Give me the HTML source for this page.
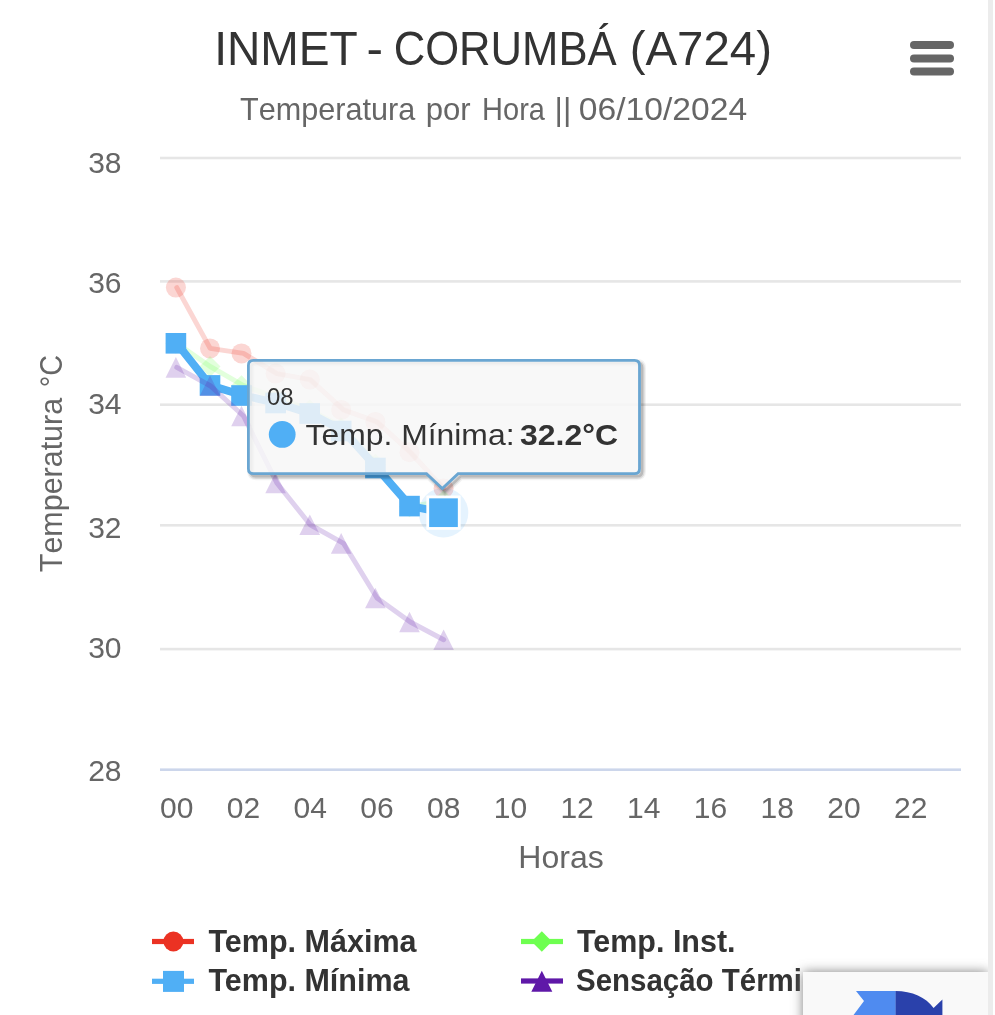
<!DOCTYPE html>
<html><head><meta charset="utf-8"><title>INMET - CORUMBÁ (A724)</title>
<style>
html,body{margin:0;padding:0;background:#fff;width:995px;height:1015px;overflow:hidden;}
svg{position:absolute;left:0;top:0;display:block;will-change:transform;}
text{font-family:"Liberation Sans",sans-serif;}
</style></head><body>
<svg width="995" height="1015" viewBox="0 0 995 1015">
<defs><filter id="bsh" x="-30%" y="-100%" width="160%" height="300%"><feGaussianBlur stdDeviation="6"/></filter></defs>

<rect x="988" y="0" width="5" height="1015" fill="#ececec"/>
<text x="214.14" y="65" font-size="49" fill="#333333" textLength="143.62" lengthAdjust="spacingAndGlyphs" style="font-kerning:none">INMET</text>
<text x="366.60" y="65" font-size="49" fill="#333333" textLength="16.50" lengthAdjust="spacingAndGlyphs" style="font-kerning:none">-</text>
<text x="393.68" y="65" font-size="49" fill="#333333" textLength="223.00" lengthAdjust="spacingAndGlyphs" style="font-kerning:none">CORUMBÁ</text>
<text x="629.66" y="65" font-size="49" fill="#333333" textLength="142.38" lengthAdjust="spacingAndGlyphs" style="font-kerning:none">(A724)</text>
<text x="240.01" y="119.6" font-size="31.7" fill="#666666" textLength="175.29" lengthAdjust="spacingAndGlyphs" style="font-kerning:none">Temperatura</text>
<text x="425.80" y="119.6" font-size="31.7" fill="#666666" textLength="44.92" lengthAdjust="spacingAndGlyphs" style="font-kerning:none">por</text>
<text x="482.12" y="119.6" font-size="31.7" fill="#666666" textLength="62.78" lengthAdjust="spacingAndGlyphs" style="font-kerning:none">Hora</text>
<text x="554.52" y="119.6" font-size="31.7" fill="#666666" textLength="16.77" lengthAdjust="spacingAndGlyphs" style="font-kerning:none">||</text>
<text x="578.79" y="119.6" font-size="31.7" fill="#666666" textLength="168.30" lengthAdjust="spacingAndGlyphs" style="font-kerning:none">06/10/2024</text>
<line x1="914" y1="45.1" x2="950" y2="45.1" stroke="#666666" stroke-width="8" stroke-linecap="round"/>
<line x1="914" y1="58.4" x2="950" y2="58.4" stroke="#666666" stroke-width="8" stroke-linecap="round"/>
<line x1="914" y1="71.6" x2="950" y2="71.6" stroke="#666666" stroke-width="8" stroke-linecap="round"/>
<rect x="160" y="156.7" width="801" height="2.6" fill="#e6e6e6"/>
<rect x="160" y="280.1" width="801" height="2.6" fill="#e6e6e6"/>
<rect x="160" y="403.4" width="801" height="2.6" fill="#e6e6e6"/>
<rect x="160" y="524.0" width="801" height="2.6" fill="#e6e6e6"/>
<rect x="160" y="647.8" width="801" height="2.6" fill="#e6e6e6"/>
<rect x="160" y="768.4" width="801" height="2.6" fill="#ccd6eb"/>
<text x="121.5" y="172.6" font-size="30" fill="#666666" text-anchor="end">38</text>
<text x="121.5" y="292.6" font-size="30" fill="#666666" text-anchor="end">36</text>
<text x="121.5" y="413.7" font-size="30" fill="#666666" text-anchor="end">34</text>
<text x="121.5" y="537.5" font-size="30" fill="#666666" text-anchor="end">32</text>
<text x="121.5" y="657.6" font-size="30" fill="#666666" text-anchor="end">30</text>
<text x="121.5" y="781.3" font-size="30" fill="#666666" text-anchor="end">28</text>
<text x="176.8" y="817.6" font-size="30" fill="#666666" text-anchor="middle">00</text>
<text x="243.5" y="817.6" font-size="30" fill="#666666" text-anchor="middle">02</text>
<text x="310.2" y="817.6" font-size="30" fill="#666666" text-anchor="middle">04</text>
<text x="376.9" y="817.6" font-size="30" fill="#666666" text-anchor="middle">06</text>
<text x="443.7" y="817.6" font-size="30" fill="#666666" text-anchor="middle">08</text>
<text x="510.4" y="817.6" font-size="30" fill="#666666" text-anchor="middle">10</text>
<text x="577.1" y="817.6" font-size="30" fill="#666666" text-anchor="middle">12</text>
<text x="643.8" y="817.6" font-size="30" fill="#666666" text-anchor="middle">14</text>
<text x="710.5" y="817.6" font-size="30" fill="#666666" text-anchor="middle">16</text>
<text x="777.3" y="817.6" font-size="30" fill="#666666" text-anchor="middle">18</text>
<text x="844.0" y="817.6" font-size="30" fill="#666666" text-anchor="middle">20</text>
<text x="910.7" y="817.6" font-size="30" fill="#666666" text-anchor="middle">22</text>
<text x="561" y="868" font-size="32" fill="#666666" text-anchor="middle">Horas</text>
<g transform="translate(62,0) rotate(-90)"><text x="-572.18" y="0" font-size="32" fill="#666666" textLength="174.28" lengthAdjust="spacingAndGlyphs" style="font-kerning:none">Temperatura</text><text x="-387.32" y="0" font-size="32" fill="#666666" textLength="32.42" lengthAdjust="spacingAndGlyphs" style="font-kerning:none">°C</text></g>
<g opacity="0.2"><polyline points="176.8,287.6 210.2,348.4 243.5,353.4 276.9,373.6 310.2,379.6 343.6,409.9 377.0,421.9 410.3,452.2 443.7,488.5" fill="none" stroke="#eb3223" stroke-width="5.0" stroke-linejoin="round" stroke-linecap="round"/></g><g opacity="0.2"><circle cx="175.9" cy="287.6" r="10.0" fill="#eb3223"/><circle cx="210.0" cy="348.4" r="10.0" fill="#eb3223"/><circle cx="241.5" cy="353.4" r="10.0" fill="#eb3223"/><circle cx="275.6" cy="373.6" r="10.0" fill="#eb3223"/><circle cx="309.8" cy="379.6" r="10.0" fill="#eb3223"/><circle cx="341.2" cy="409.9" r="10.0" fill="#eb3223"/><circle cx="375.4" cy="421.9" r="10.0" fill="#eb3223"/><circle cx="409.5" cy="452.2" r="10.0" fill="#eb3223"/><circle cx="443.6" cy="488.5" r="10.0" fill="#eb3223"/></g>
<g opacity="0.2"><polyline points="176.8,343.3 210.2,366.5 243.5,385.7 276.9,397.7 310.2,409.9 343.6,428.0 377.0,464.3 410.3,506.7 443.7,500.6" fill="none" stroke="#6eff50" stroke-width="5.0" stroke-linejoin="round" stroke-linecap="round"/></g><g opacity="0.2"><path d="M175.9 332.8L186.4 343.3L175.9 353.8L165.4 343.3Z" fill="#6eff50"/><path d="M210.0 356.0L220.5 366.5L210.0 377.0L199.5 366.5Z" fill="#6eff50"/><path d="M241.5 375.2L252.0 385.7L241.5 396.2L231.0 385.7Z" fill="#6eff50"/><path d="M275.6 387.2L286.1 397.7L275.6 408.2L265.1 397.7Z" fill="#6eff50"/><path d="M309.8 399.4L320.2 409.9L309.8 420.4L299.2 409.9Z" fill="#6eff50"/><path d="M341.2 417.5L351.7 428.0L341.2 438.5L330.7 428.0Z" fill="#6eff50"/><path d="M375.4 453.8L385.9 464.3L375.4 474.8L364.9 464.3Z" fill="#6eff50"/><path d="M409.5 496.2L420.0 506.7L409.5 517.2L399.0 506.7Z" fill="#6eff50"/><path d="M443.6 490.1L454.1 500.6L443.6 511.1L433.1 500.6Z" fill="#6eff50"/></g>
<polyline points="176.8,343.3 210.2,385.4 243.5,395.5 276.9,403.0 310.2,413.5 343.6,431.0 377.0,468.0 410.3,506.1 443.7,512.7" fill="none" stroke="#50aff5" stroke-width="7.9" stroke-linejoin="round" stroke-linecap="round"/>
<rect x="165.6" y="333.0" width="20.6" height="20.6" fill="#50aff5"/><rect x="199.7" y="375.1" width="20.6" height="20.6" fill="#50aff5"/><rect x="231.2" y="385.2" width="20.6" height="20.6" fill="#50aff5"/><rect x="265.3" y="392.7" width="20.6" height="20.6" fill="#50aff5"/><rect x="299.4" y="403.2" width="20.6" height="20.6" fill="#50aff5"/><rect x="330.9" y="420.7" width="20.6" height="20.6" fill="#50aff5"/><rect x="365.1" y="457.7" width="20.6" height="20.6" fill="#50aff5"/><rect x="399.2" y="495.8" width="20.6" height="20.6" fill="#50aff5"/>
<circle cx="443.5" cy="512.7" r="24.8" fill="#50aff5" fill-opacity="0.15"/>
<rect x="427.75" y="496.95000000000005" width="31.5" height="31.5" fill="#50aff5" stroke="#ffffff" stroke-width="2.8"/>
<g opacity="0.2"><polyline points="176.8,367.4 210.2,385.7 243.5,416.0 276.9,483.0 310.2,524.7 343.6,543.4 377.0,598.0 410.3,622.0 443.7,639.7" fill="none" stroke="#5f18a8" stroke-width="5.0" stroke-linejoin="round" stroke-linecap="round"/></g><g opacity="0.2"><path d="M175.9 357.1L186.2 377.7L165.6 377.7Z" fill="#5f18a8"/><path d="M210.0 375.4L220.3 396.0L199.7 396.0Z" fill="#5f18a8"/><path d="M241.5 405.7L251.8 426.3L231.2 426.3Z" fill="#5f18a8"/><path d="M275.6 472.7L285.9 493.3L265.3 493.3Z" fill="#5f18a8"/><path d="M309.8 514.4L320.1 535.0L299.4 535.0Z" fill="#5f18a8"/><path d="M341.2 533.1L351.5 553.7L330.9 553.7Z" fill="#5f18a8"/><path d="M375.4 587.7L385.7 608.3L365.1 608.3Z" fill="#5f18a8"/><path d="M409.5 611.7L419.8 632.3L399.2 632.3Z" fill="#5f18a8"/><path d="M443.6 629.4L453.9 650.0L433.3 650.0Z" fill="#5f18a8"/></g>
<path d="M253.4 360.4 L634.5 360.4 Q639.5 360.4 639.5 365.4 L639.5 468.7 Q639.5 473.7 634.5 473.7 L458.1 473.7 L442.3 488.5 L426.5 473.7 L253.4 473.7 Q248.4 473.7 248.4 468.7 L248.4 365.4 Q248.4 360.4 253.4 360.4 Z" transform="translate(2.6,2.6)" fill="none" stroke="#000" stroke-opacity="0.05" stroke-width="7.8"/>
<path d="M253.4 360.4 L634.5 360.4 Q639.5 360.4 639.5 365.4 L639.5 468.7 Q639.5 473.7 634.5 473.7 L458.1 473.7 L442.3 488.5 L426.5 473.7 L253.4 473.7 Q248.4 473.7 248.4 468.7 L248.4 365.4 Q248.4 360.4 253.4 360.4 Z" transform="translate(2.6,2.6)" fill="none" stroke="#000" stroke-opacity="0.1" stroke-width="5.2"/>
<path d="M253.4 360.4 L634.5 360.4 Q639.5 360.4 639.5 365.4 L639.5 468.7 Q639.5 473.7 634.5 473.7 L458.1 473.7 L442.3 488.5 L426.5 473.7 L253.4 473.7 Q248.4 473.7 248.4 468.7 L248.4 365.4 Q248.4 360.4 253.4 360.4 Z" transform="translate(2.6,2.6)" fill="none" stroke="#000" stroke-opacity="0.15" stroke-width="2.6"/>
<path d="M253.4 360.4 L634.5 360.4 Q639.5 360.4 639.5 365.4 L639.5 468.7 Q639.5 473.7 634.5 473.7 L458.1 473.7 L442.3 488.5 L426.5 473.7 L253.4 473.7 Q248.4 473.7 248.4 468.7 L248.4 365.4 Q248.4 360.4 253.4 360.4 Z" fill="#f7f7f7" fill-opacity="0.85" stroke="#6aa6d2" stroke-width="2.8"/>
<text x="267" y="404.7" font-size="23.9" fill="#333333">08</text>
<circle cx="282.2" cy="434.4" r="13.4" fill="#50aff5"/>
<text x="305.5" y="445" font-size="29.8" fill="#333333" textLength="209" lengthAdjust="spacingAndGlyphs">Temp. Mínima:</text>
<text x="520" y="445" font-size="29.8" fill="#333333" font-weight="bold" textLength="98" lengthAdjust="spacingAndGlyphs">32.2°C</text>
<rect x="152" y="938.9" width="42" height="5.2" fill="#eb3223"/><circle cx="173.4" cy="941.5" r="10" fill="#eb3223"/>
<rect x="152" y="978.7" width="42" height="5.2" fill="#50aff5"/><rect x="163" y="970.9" width="21" height="21" fill="#50aff5"/>
<rect x="521" y="938.9" width="42" height="5.2" fill="#6eff50"/><path d="M541.8 931.3L552 941.5L541.8 951.7L531.6 941.5Z" fill="#6eff50"/>
<rect x="521" y="978.4" width="42" height="5.2" fill="#5f18a8"/><path d="M541.8 970.7L552.3 991.8L531.3 991.8Z" fill="#5f18a8"/>
<text x="208.5" y="951.7" font-size="31.5" font-weight="bold" fill="#333333" textLength="208" lengthAdjust="spacingAndGlyphs">Temp. Máxima</text>
<text x="208.5" y="991.2" font-size="31.5" font-weight="bold" fill="#333333" textLength="201" lengthAdjust="spacingAndGlyphs">Temp. Mínima</text>
<text x="577" y="951.7" font-size="31.5" font-weight="bold" fill="#333333" textLength="158.5" lengthAdjust="spacingAndGlyphs">Temp. Inst.</text>
<text x="576" y="991.2" font-size="31.5" font-weight="bold" fill="#333333" textLength="226" lengthAdjust="spacingAndGlyphs">Sensação Térmi</text>
<rect x="803" y="972" width="185" height="60" fill="#808080" filter="url(#bsh)"/>
<rect x="803" y="972" width="185" height="43" fill="#f9f9f9"/>
<rect x="988" y="940" width="5" height="75" fill="#ececec"/><rect x="993" y="940" width="2" height="75" fill="#ffffff"/>
<path d="M856 990.9 L895.8 990.9 L895.8 1015 L853.5 1015 L864 1001 Z" fill="#4f8bf0"/>
<path d="M895.6 990.9 C912 990.9 926 997 933.6 1008.1 L942.4 999.4 L942.4 1015 L895.6 1015 Z" fill="#2a41ab"/>
</svg></body></html>
